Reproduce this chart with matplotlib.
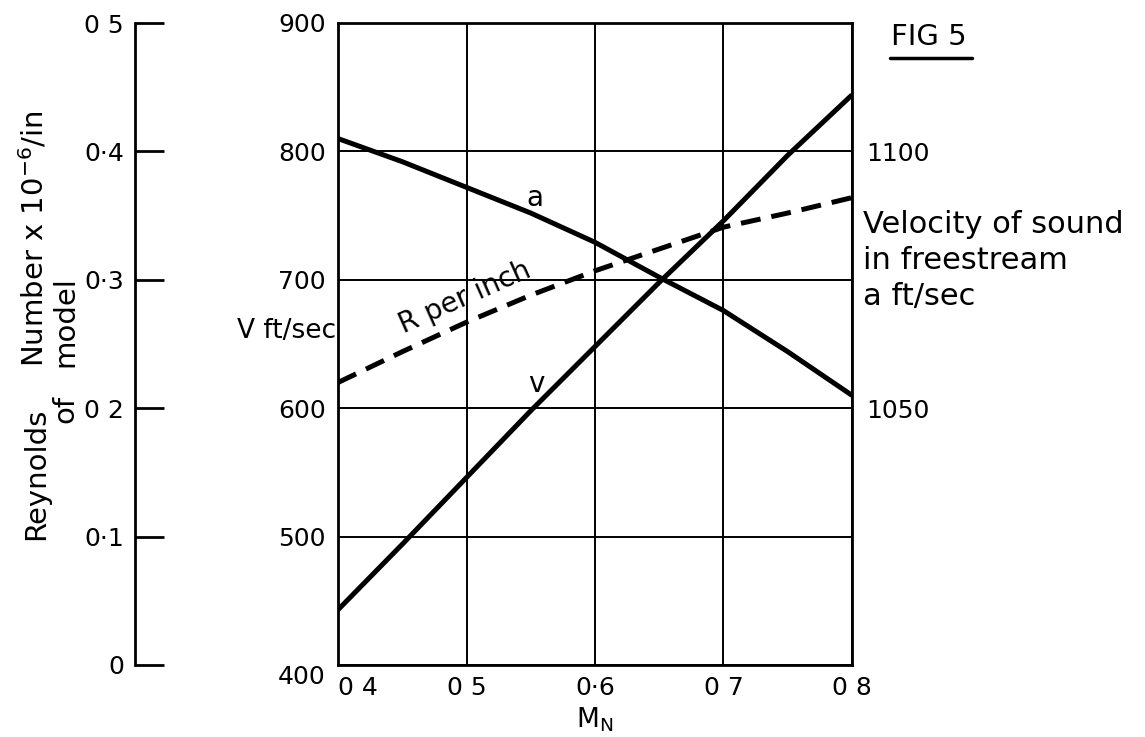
"""
FIG 5: freestream velocity, velocity of sound and Reynolds number per inch
against Mach number.
"""

import matplotlib

matplotlib.use("Agg")
import matplotlib.pyplot as plt
from matplotlib.lines import Line2D

plt.rcParams["font.family"] = ["DejaVu Sans"]

# values
mach = [0.40, 0.45, 0.50, 0.55, 0.60, 0.65, 0.70, 0.75, 0.80]
v_fps = [443, 494, 546, 598, 648, 698, 746, 797, 844]
a_fps = [1102.5, 1098, 1093, 1088, 1082.3, 1075.5, 1069, 1061, 1052.5]
re_per_in = [0.220, 0.244, 0.267, 0.288, 0.307, 0.324, 0.341, 0.352, 0.364]

mach_ticks = [0.4, 0.5, 0.6, 0.7, 0.8]
mach_labels = ["0 4", "0 5", "0·6", "0 7", "0 8"]
v_ticks = [400, 500, 600, 700, 800, 900]
v_labels = ["400", "500", "600", "700", "800", "900"]
re_ticks = [0.0, 0.1, 0.2, 0.3, 0.4, 0.5]
re_labels = ["0", "0·1", "0 2", "0·3", "0·4", "0 5"]
a_ticks = [1050, 1100]
a_labels = ["1050", "1100"]

W, H = 1145, 737


def px(x, y):
    """pixel position -> figure fraction"""
    return x / W, 1 - y / H


fig = plt.figure(figsize=(W / 100, H / 100), dpi=100)
left, right, top, bottom = 338, 852, 23, 665
ax = fig.add_axes([left / W, 1 - bottom / H, (right - left) / W, (bottom - top) / H])

ax.set_xlim(0.4, 0.8)
ax.set_ylim(400, 900)
ax.set_xticks(mach_ticks)
ax.set_xticklabels(mach_labels)
ax.set_yticks(v_ticks)
ax.set_yticklabels(v_labels)
ax.tick_params(axis="both", length=0, labelsize=18)
ax.tick_params(axis="x", pad=8)
ax.tick_params(axis="y", pad=9)
ax.grid(True, color="black", linewidth=1.4)
for s in ax.spines.values():
    s.set_linewidth(2)
ax.get_xticklabels()[0].set_horizontalalignment("left")
ax.get_yticklabels()[0].set_verticalalignment("top")

ax.plot(mach, v_fps, color="black", linewidth=3.6, solid_capstyle="butt")

# velocity of sound on the right-hand scale
ax_a = ax.twinx()
ax_a.set_ylim(1000, 1125)
ax_a.set_yticks(a_ticks)
ax_a.set_yticklabels(a_labels)
ax_a.tick_params(axis="y", length=0, pad=10, labelsize=18)
for s in ax_a.spines.values():
    s.set_visible(False)
ax_a.plot(mach, a_fps, color="black", linewidth=3.6, solid_capstyle="butt")

# Reynolds number per inch on the detached left-hand scale
ax_re = ax.twinx()
ax_re.set_ylim(0, 0.5)
ax_re.spines["left"].set_position(("axes", (135 - left) / (right - left)))
ax_re.spines["left"].set_visible(True)
ax_re.spines["left"].set_linewidth(2)
for name in ("right", "top", "bottom"):
    ax_re.spines[name].set_visible(False)
ax_re.yaxis.set_ticks_position("left")
ax_re.set_yticks(re_ticks)
ax_re.set_yticklabels(re_labels)
ax_re.tick_params(axis="y", direction="in", length=21, width=2, pad=8, labelsize=18)
ax_re.plot(mach, re_per_in, color="black", linewidth=3.6,
           linestyle=(0, (4, 2.2)), dash_capstyle="butt")

# curve labels
ax.text(0.5533, 764, "a", fontsize=20, ha="center", va="center")
ax.text(0.554, 619, "v", fontsize=20, ha="center", va="center")
ax.text(0.499, 686, "R per inch", fontsize=20, ha="center", va="center",
        rotation=24, rotation_mode="anchor")
ax.text(-0.004, 0.52, "V ft/sec", fontsize=19, ha="right", va="center",
        transform=ax.transAxes)
ax.set_xlabel("M$_\\mathrm{N}$", fontsize=19, labelpad=4)

# left scale title
fig.text(*px(44, 540), "Reynolds", fontsize=21, rotation=90,
         rotation_mode="anchor", ha="left", va="baseline")
fig.text(*px(44, 367), "Number x 10$^{-6}$/in", fontsize=21, rotation=90,
         rotation_mode="anchor", ha="left", va="baseline")
fig.text(*px(73, 423), "of", fontsize=21, rotation=90,
         rotation_mode="anchor", ha="left", va="baseline")
fig.text(*px(73, 367), "model", fontsize=21, rotation=90,
         rotation_mode="anchor", ha="left", va="baseline")

# right scale title
fig.text(*px(863, 210), "Velocity of sound\nin freestream\na ft/sec",
         fontsize=22, ha="left", va="top", linespacing=1.3)
fig.text(*px(929, 37), "FIG 5", fontsize=21, ha="center", va="center")
fig.add_artist(Line2D([890 / W, 972 / W], [1 - 58 / H, 1 - 58 / H],
                      color="black", linewidth=2.5, solid_capstyle="round"))

fig.savefig("out.png", dpi=100)
